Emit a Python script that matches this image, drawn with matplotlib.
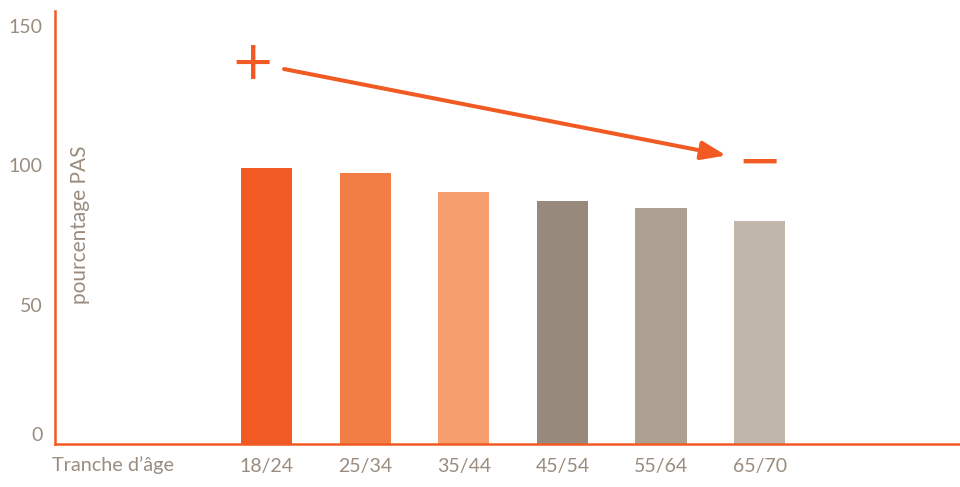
import matplotlib
matplotlib.use('Agg')
import matplotlib.pyplot as plt

categories = ['18/24', '25/34', '35/44', '45/54', '55/64', '65/70']
values = [99, 97, 90.5, 87, 84.5, 80]
bar_colors = ['#F15A22', '#F37E45', '#F69E6E', '#978A7C', '#ABA092', '#C0B6AB']
yticks = [0, 50, 100, 150]
xlabel = "Tranche d’âge"
ylabel = "pourcentage PAS"

ORANGE = '#F15A22'
TXT = '#9A8C7E'
plt.rcParams['font.family'] = ['Lato', 'DejaVu Sans']

fig = plt.figure(figsize=(9.6, 4.87), dpi=100)
ax = fig.add_axes([55 / 960, (487 - 444) / 487, 905 / 960, (444 - 11) / 487])
x = list(range(len(categories)))
ax.bar(x, values, width=0.52, color=bar_colors, zorder=1)
ax.set_xlim(-2.145, 7.03)
ax.set_ylim(0, 155.2)

for s in ['top', 'right']:
    ax.spines[s].set_visible(False)
for s in ['left', 'bottom']:
    ax.spines[s].set_color(ORANGE)
    ax.spines[s].set_linewidth(1.8)
    ax.spines[s].set_zorder(3)

ax.set_xticks(x)
ax.set_xticklabels(categories)
ax.set_yticks(yticks)
ax.set_yticklabels([str(v) for v in yticks])
ax.tick_params(axis='both', length=0, colors=TXT, labelsize=14)
ax.tick_params(axis='x', pad=10)
ax.tick_params(axis='y', pad=9)
ax.yaxis.get_major_ticks()[0].label1.set_verticalalignment('bottom')

fig.text(52 / 960, (487 - 465) / 487, xlabel, ha='left', va='center',
         color=TXT, fontsize=14.3)
ax.text((80 - 55) / 905, (444 - 225) / 433, ylabel, rotation=90,
        ha='center', va='center', color=TXT, fontsize=15, transform=ax.transAxes)

# trend arrow with + and - signs
ax.annotate('', xy=(4.66, 103.4), xytext=(0.177, 134.4),
            arrowprops=dict(arrowstyle='-|>,head_length=0.75,head_width=0.28',
                            color=ORANGE, lw=2.9, shrinkA=0, shrinkB=0,
                            mutation_scale=20))
ax.text(-0.147, 138.3, '+', ha='center', va='center_baseline', color=ORANGE,
        fontsize=38, family='DejaVu Sans')
ax.text(5.0, 102.8, '−', ha='center', va='center_baseline', color=ORANGE,
        fontsize=38, family='DejaVu Sans')

fig.savefig('out.png', dpi=100)
